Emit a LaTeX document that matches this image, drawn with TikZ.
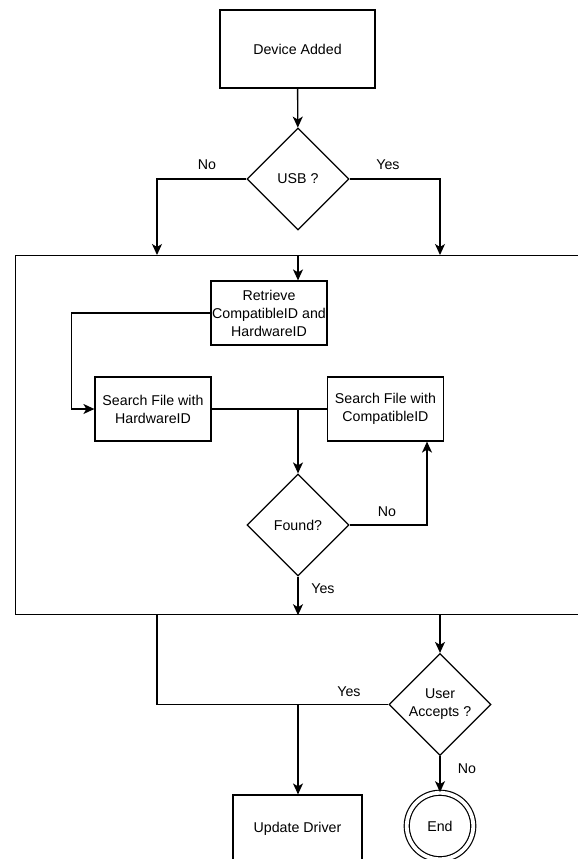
\documentclass[tikz,border=0pt]{standalone}
\usepackage{fontspec}
\setmainfont{Liberation Sans}
\usetikzlibrary{shapes.geometric,arrows.meta}
\begin{document}
\begin{tikzpicture}[x=1pt,y=-1pt,
  txt/.style={font=\fontsize{14.2}{18}\selectfont},
  box/.style={txt, draw, line width=1.2pt, rectangle, inner sep=0pt, align=center},
  dia/.style={txt, draw, line width=1.2pt, diamond, minimum width=102pt, minimum height=102pt, inner sep=0pt, align=center},
  line/.style={line width=1.3pt},
  conn/.style={line width=1.4pt, -{Stealth[length=11pt,width=10pt,inset=3pt]}},
  lbl/.style={txt, inner sep=0pt}]
\useasboundingbox (0,0) rectangle (578,859);
\clip (0,0) rectangle (578,859);

% nodes
\node[box, minimum width=155pt, minimum height=78pt] (dev) at (297.5,49) {Device Added};
\node[dia] (usb) at (298,179) {USB ?};
\node[draw, line width=1.2pt, rectangle, inner sep=0pt, minimum width=620pt, minimum height=359pt, anchor=north west] (cont) at (15,255) {};
\node[box, minimum width=116pt, minimum height=64pt] (ret) at (269,313) {Retrieve\\CompatibleID and\\HardwareID};
\node[box, minimum width=116pt, minimum height=64pt] (shw) at (153,409) {Search File with\\HardwareID};
\node[box, minimum width=116pt, minimum height=64pt] (sci) at (385.5,409) {Search File with\\CompatibleID};
\node[dia] (found) at (298,525) {Found?};
\node[dia] (ua) at (440,704.5) {User\\Accepts ?};
\node[box, minimum width=129pt, minimum height=67pt] (upd) at (297.5,828.5) {Update Driver};
\node[txt, draw, circle, double, line width=1.2pt, double distance=3.8pt, minimum size=66.5pt, inner sep=0pt] (end) at (440,826) {End};

% free ends on the container
\coordinate (cno) at (157,255);
\coordinate (cyes) at (440,255);
\coordinate (cin) at (298,255);
\coordinate (cbl) at (157,614);
\coordinate (cbr) at (440,614);

% connectors
\draw[conn] (dev) -- (usb);
\draw[conn] (usb.west) -| (cno);
\draw[conn] (usb.east) -| (cyes);
\draw[conn] (cin) -- (cin |- ret.north);
\draw[conn] (ret.west) -- ++(-139,0) |- (shw.west);
\draw[line] (shw.east) -- (sci.west);
\draw[conn] (shw.east -| found.north) -- (found.north);
\draw[conn] (found.east) -| ([xshift=41.5pt]sci.south);
\draw[conn] (found.south) -- (found.south |- cont.south);
\draw[line] (cbl) |- (ua.west);
\draw[conn] (cbr) -- (ua.north);
\draw[conn] (found.south |- ua.west) -- (found.south |- upd.north);
\draw[conn] (ua.south) -- (end.north);

% labels
\node[lbl] (l1) at (207,165) {No};
\node[lbl] (l2) at (388,165) {Yes};
\node[lbl] (l3) at (387,512) {No};
\node[lbl] (l4) at (323,589) {Yes};
\node[lbl] (l5) at (349,692) {Yes};
\node[lbl] (l6) at (467,769) {No};
\end{tikzpicture}
\end{document}
